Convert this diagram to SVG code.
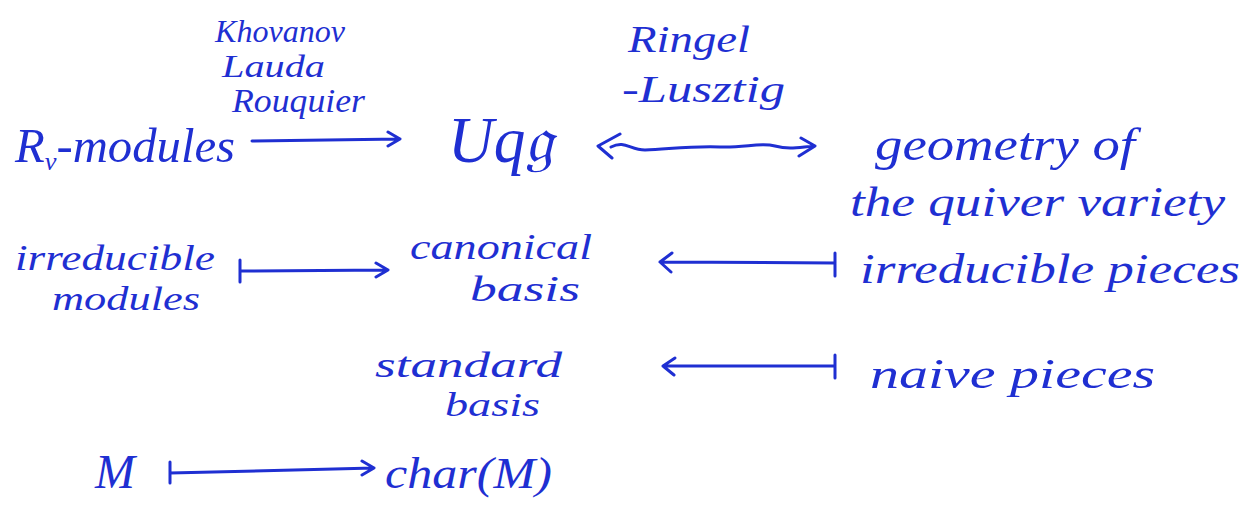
<svg xmlns="http://www.w3.org/2000/svg" width="1255" height="506" viewBox="0 0 1255 506">
<style>
.t{font-family:"Liberation Serif","DejaVu Serif",serif;font-style:italic;fill:#1f2fd2}
.c{fill:none;stroke:#1f2fd2;stroke-width:3;stroke-linecap:round;stroke-linejoin:round}
</style>
<rect width="1255" height="506" fill="#ffffff"/>
<g id="klr-label">
<text class="t" x="215" y="42" font-size="32" textLength="130" lengthAdjust="spacingAndGlyphs">Khovanov</text>
<text class="t" x="222" y="77" font-size="32" textLength="103" lengthAdjust="spacingAndGlyphs">Lauda</text>
<text class="t" x="232" y="112" font-size="34" textLength="133" lengthAdjust="spacingAndGlyphs">Rouquier</text>
</g>
<g id="rl-label">
<text class="t" x="628" y="52" font-size="38" textLength="122" lengthAdjust="spacingAndGlyphs">Ringel</text>
<text class="t" x="622" y="102" font-size="38" textLength="163" lengthAdjust="spacingAndGlyphs">-Lusztig</text>
</g>
<g id="node-rmodules">
<text class="t" x="15" y="162" font-size="48" textLength="220" lengthAdjust="spacingAndGlyphs">R<tspan font-size="26" dy="8">ν</tspan><tspan dy="-8">-modules</tspan></text>
</g>
<g id="node-uqg">
<text class="t" x="448" y="162" font-size="66" textLength="105" lengthAdjust="spacingAndGlyphs">Uq𝔤</text>
</g>
<g id="node-geometry">
<text class="t" x="875" y="160" font-size="46" textLength="260" lengthAdjust="spacingAndGlyphs">geometry of</text>
<text class="t" x="850" y="216" font-size="42" textLength="375" lengthAdjust="spacingAndGlyphs">the quiver variety</text>
</g>
<g id="node-irrmodules">
<text class="t" x="15" y="270" font-size="36" textLength="200" lengthAdjust="spacingAndGlyphs">irreducible</text>
<text class="t" x="52" y="310" font-size="34" textLength="148" lengthAdjust="spacingAndGlyphs">modules</text>
</g>
<g id="node-canonical">
<text class="t" x="410" y="259" font-size="36" textLength="182" lengthAdjust="spacingAndGlyphs">canonical</text>
<text class="t" x="470" y="301" font-size="36" textLength="110" lengthAdjust="spacingAndGlyphs">basis</text>
</g>
<g id="node-irrpieces">
<text class="t" x="860" y="283" font-size="42" textLength="380" lengthAdjust="spacingAndGlyphs">irreducible pieces</text>
</g>
<g id="node-standard">
<text class="t" x="375" y="377" font-size="36" textLength="187" lengthAdjust="spacingAndGlyphs">standard</text>
<text class="t" x="445" y="416" font-size="34" textLength="95" lengthAdjust="spacingAndGlyphs">basis</text>
</g>
<g id="node-naive">
<text class="t" x="870" y="388" font-size="42" textLength="285" lengthAdjust="spacingAndGlyphs">naive pieces</text>
</g>
<g id="node-m">
<text class="t" x="95" y="488" font-size="48" textLength="40" lengthAdjust="spacingAndGlyphs">M</text>
</g>
<g id="node-char">
<text class="t" x="385" y="488" font-size="44" textLength="167" lengthAdjust="spacingAndGlyphs">char(M)</text>
</g>
<g id="connectors">
<path class="c" d="M252,141 L400,139 M388,132 L400,139 L388,146"/>
<path class="c" d="M611,147 C625,140 630,150 645,150 C670,149 690,146 720,147 C745,148 760,142 775,146 C790,150 800,147 815,146 M620,134 L598,146 L612,158 M801,138 L815,146 L799,156"/>
<path class="c" d="M240,260 L240,282 M240,271 L388,270 M376,263 L388,270 L376,277"/>
<path class="c" d="M660,262 L835,263 M672,253 L660,262 L671,272 M835,253 L835,276"/>
<path class="c" d="M663,366 L835,366 M675,358 L663,366 L674,375 M835,355 L835,378"/>
<path class="c" d="M170,462 L170,483 M170,473 L374,468 M362,461 L374,468 L362,475"/>
</g>
</svg>
